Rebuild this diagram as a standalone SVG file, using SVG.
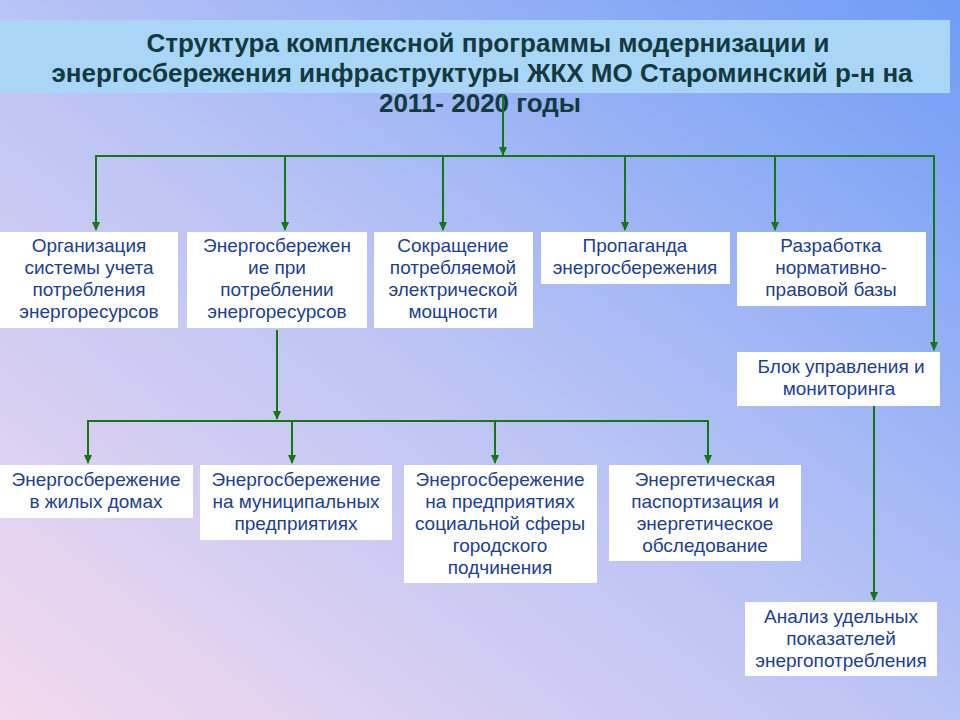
<svg xmlns="http://www.w3.org/2000/svg" width="960" height="720" viewBox="0 0 960 720">
<defs>
<linearGradient id="bg" x1="0" y1="1" x2="1" y2="0">
<stop offset="0" stop-color="#f3d9ee"/>
<stop offset="0.5" stop-color="#b9c3f5"/>
<stop offset="1" stop-color="#6f9cf5"/>
</linearGradient>
<marker id="ar" markerWidth="10" markerHeight="10" refX="8" refY="5" orient="auto" markerUnits="userSpaceOnUse">
<path d="M0,1 L9,5 L0,9 Z" fill="#127812"/>
</marker>
<style>
.box{fill:#fff}
.t{font-family:"Liberation Sans",Arial,sans-serif;font-size:19px;fill:#1c3f8e;text-anchor:middle}
.h{font-family:"Liberation Sans",Arial,sans-serif;font-size:26px;font-weight:bold;fill:#123a3f;text-anchor:middle}
.c line{stroke:#127812;stroke-width:2}
.a{marker-end:url(#ar)}
</style>
</defs>
<rect width="960" height="720" fill="url(#bg)"/>
<rect x="0" y="20" width="950" height="73" fill="#a9d6f7"/>
<g id="title">
<text class="h" x="488" y="52">Структура комплексной программы модернизации и</text>
<text class="h" x="482" y="82">энергосбережения инфраструктуры ЖКХ МО Староминский р-н на</text>
<text class="h" x="480" y="112">2011- 2020 годы</text>
</g>
<g class="c">
<line class="a" x1="503" y1="95" x2="503" y2="155"/>
<line x1="95" y1="156" x2="935" y2="156"/>
<line class="a" x1="96" y1="156" x2="96" y2="230"/>
<line class="a" x1="285" y1="156" x2="285" y2="230"/>
<line class="a" x1="443" y1="156" x2="443" y2="230"/>
<line class="a" x1="625" y1="156" x2="625" y2="230"/>
<line class="a" x1="775" y1="156" x2="775" y2="230"/>
<line class="a" x1="934" y1="156" x2="934" y2="350"/>
<line class="a" x1="277" y1="330" x2="277" y2="419"/>
<line x1="87" y1="421" x2="709" y2="421"/>
<line class="a" x1="88" y1="421" x2="88" y2="463"/>
<line class="a" x1="292" y1="421" x2="292" y2="463"/>
<line class="a" x1="495" y1="421" x2="495" y2="463"/>
<line class="a" x1="708" y1="421" x2="708" y2="463"/>
<line class="a" x1="874" y1="406" x2="874" y2="600"/>
</g>
<g id="n1"><rect class="box" x="0" y="232" width="178" height="96"/>
<text class="t" x="89" y="252">Организация</text><text class="t" x="89" y="274">системы учета</text><text class="t" x="89" y="296">потребления</text><text class="t" x="89" y="318">энергоресурсов</text></g>
<g id="n2"><rect class="box" x="187" y="232" width="180" height="96"/>
<text class="t" x="277" y="252">Энергосбережен</text><text class="t" x="277" y="274">ие при</text><text class="t" x="277" y="296">потреблении</text><text class="t" x="277" y="318">энергоресурсов</text></g>
<g id="n3"><rect class="box" x="374" y="232" width="159" height="96"/>
<text class="t" x="453" y="252">Сокращение</text><text class="t" x="453" y="274">потребляемой</text><text class="t" x="453" y="296">электрической</text><text class="t" x="453" y="318">мощности</text></g>
<g id="n4"><rect class="box" x="541" y="232" width="189" height="52"/>
<text class="t" x="635" y="252">Пропаганда</text><text class="t" x="635" y="274">энергосбережения</text></g>
<g id="n5"><rect class="box" x="737" y="232" width="189" height="74"/>
<text class="t" x="831" y="252">Разработка</text><text class="t" x="831" y="274">нормативно-</text><text class="t" x="831" y="296">правовой базы</text></g>
<g id="n6"><rect class="box" x="737" y="352" width="203" height="54"/>
<text class="t" x="841" y="373">Блок управления и</text><text class="t" x="839" y="395">мониторинга</text></g>
<g id="n7"><rect class="box" x="0" y="465" width="193" height="53"/>
<text class="t" x="96" y="486">Энергосбережение</text><text class="t" x="96" y="508">в жилых домах</text></g>
<g id="n8"><rect class="box" x="200" y="465" width="192" height="75"/>
<text class="t" x="296" y="486">Энергосбережение</text><text class="t" x="296" y="508">на муниципальных</text><text class="t" x="296" y="530">предприятиях</text></g>
<g id="n9"><rect class="box" x="404" y="465" width="193" height="118"/>
<text class="t" x="500" y="486">Энергосбережение</text><text class="t" x="500" y="508">на предприятиях</text><text class="t" x="500" y="530">социальной сферы</text><text class="t" x="500" y="552">городского</text><text class="t" x="500" y="574">подчинения</text></g>
<g id="n10"><rect class="box" x="609" y="465" width="192" height="96"/>
<text class="t" x="705" y="486">Энергетическая</text><text class="t" x="705" y="508">паспортизация и</text><text class="t" x="705" y="530">энергетическое</text><text class="t" x="705" y="552">обследование</text></g>
<g id="n11"><rect class="box" x="745" y="602" width="192" height="74"/>
<text class="t" x="841" y="623">Анализ удельных</text><text class="t" x="841" y="645">показателей</text><text class="t" x="841" y="667">энергопотребления</text></g>
</svg>
